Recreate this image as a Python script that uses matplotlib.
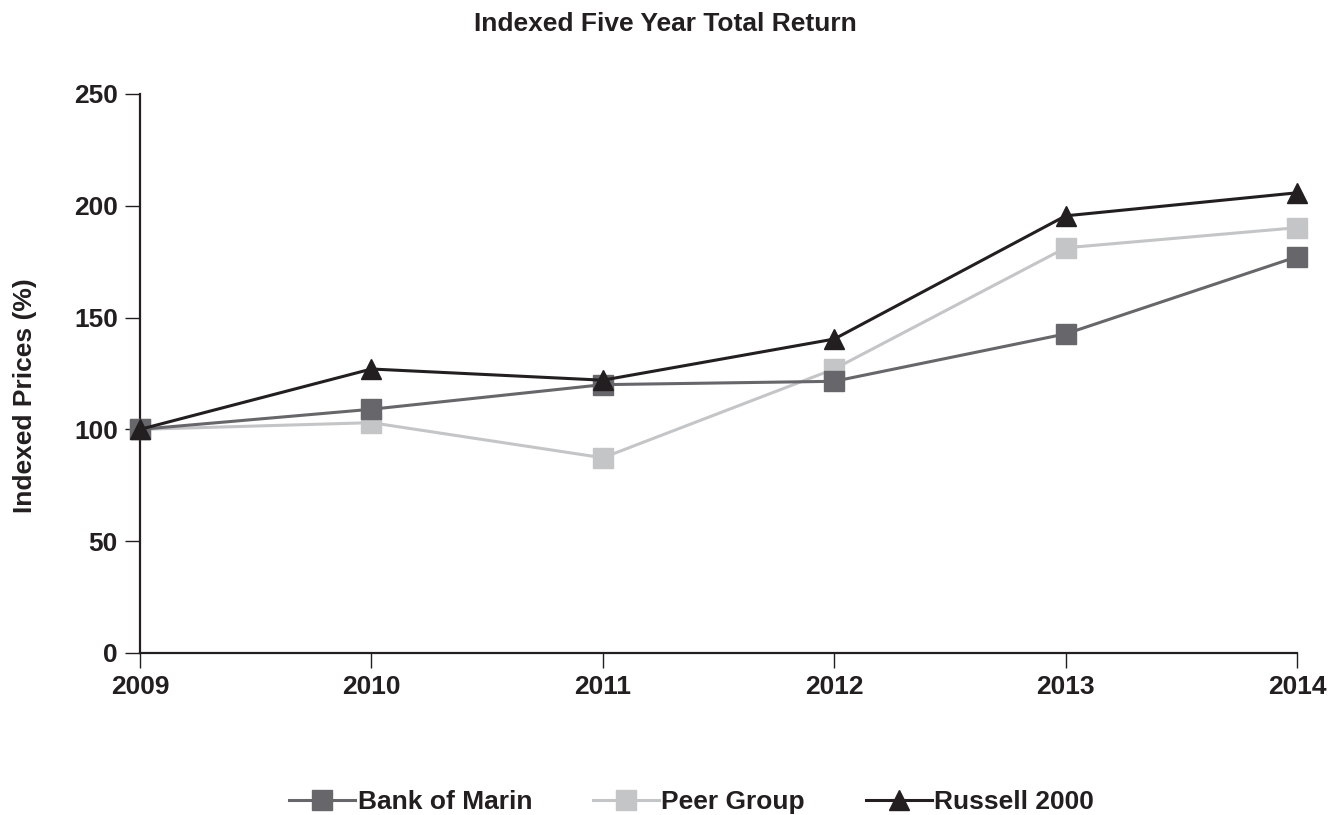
import matplotlib
matplotlib.use("Agg")
import matplotlib.pyplot as plt

plt.rcParams['font.family'] = ['Liberation Sans', 'DejaVu Sans']
plt.rcParams['font.weight'] = 'bold'

years = [2009, 2010, 2011, 2012, 2013, 2014]
bank_of_marin = [100, 109, 120, 121.5, 142.7, 177.2]
peer_group = [100, 103, 87.3, 127, 181.2, 190.2]
russell_2000 = [100, 127, 122, 140.4, 195.5, 205.8]
y_ticks = [0, 50, 100, 150, 200, 250]

fig = plt.figure(figsize=(13.3, 8.15), dpi=100)
ax = fig.add_axes([0.1053, 0.1988, 0.8699, 0.6859])

ax.plot(years, bank_of_marin, color="#67676b", marker="s", markersize=14, linewidth=2.2,
        label="Bank of Marin", zorder=3)
ax.plot(years, peer_group, color="#c4c5c7", marker="s", markersize=14, linewidth=2.2,
        label="Peer Group", zorder=2)
ax.plot(years, russell_2000, color="#231f20", marker="^", markersize=15, linewidth=2.2,
        label="Russell 2000", zorder=4)

ax.set_xlim(2009, 2014)
ax.set_ylim(0, 250)
ax.set_xticks(years)
ax.set_yticks(y_ticks)
ax.tick_params(axis="both", labelsize=19, width=1, length=11, pad=5, color="#231f20",
               labelcolor="#231f20")
for lbl in ax.get_xticklabels() + ax.get_yticklabels():
    lbl.set_fontweight("bold")
ax.spines["top"].set_visible(False)
ax.spines["right"].set_visible(False)
for s in ["left", "bottom"]:
    ax.spines[s].set_linewidth(1.6)
    ax.spines[s].set_color("#231f20")
for l in ax.lines:
    l.set_clip_on(False)

ax.set_ylabel("Indexed Prices (%)", fontsize=19, fontweight="bold", color="#231f20")
ax.yaxis.set_label_coords(-0.089, 0.46)
fig.text(0.5, 0.971, "Indexed Five Year Total Return", ha="center", va="center",
         fontsize=19, fontweight="bold", color="#231f20")

leg = fig.legend(loc="center", bbox_to_anchor=(0.52, 0.016), ncol=3, frameon=False,
                 handlelength=2.5, handletextpad=0.1, columnspacing=2.3,
                 prop={"weight": "bold", "size": 19})
for t in leg.get_texts():
    t.set_color("#231f20")

fig.savefig("out.png", dpi=100)
